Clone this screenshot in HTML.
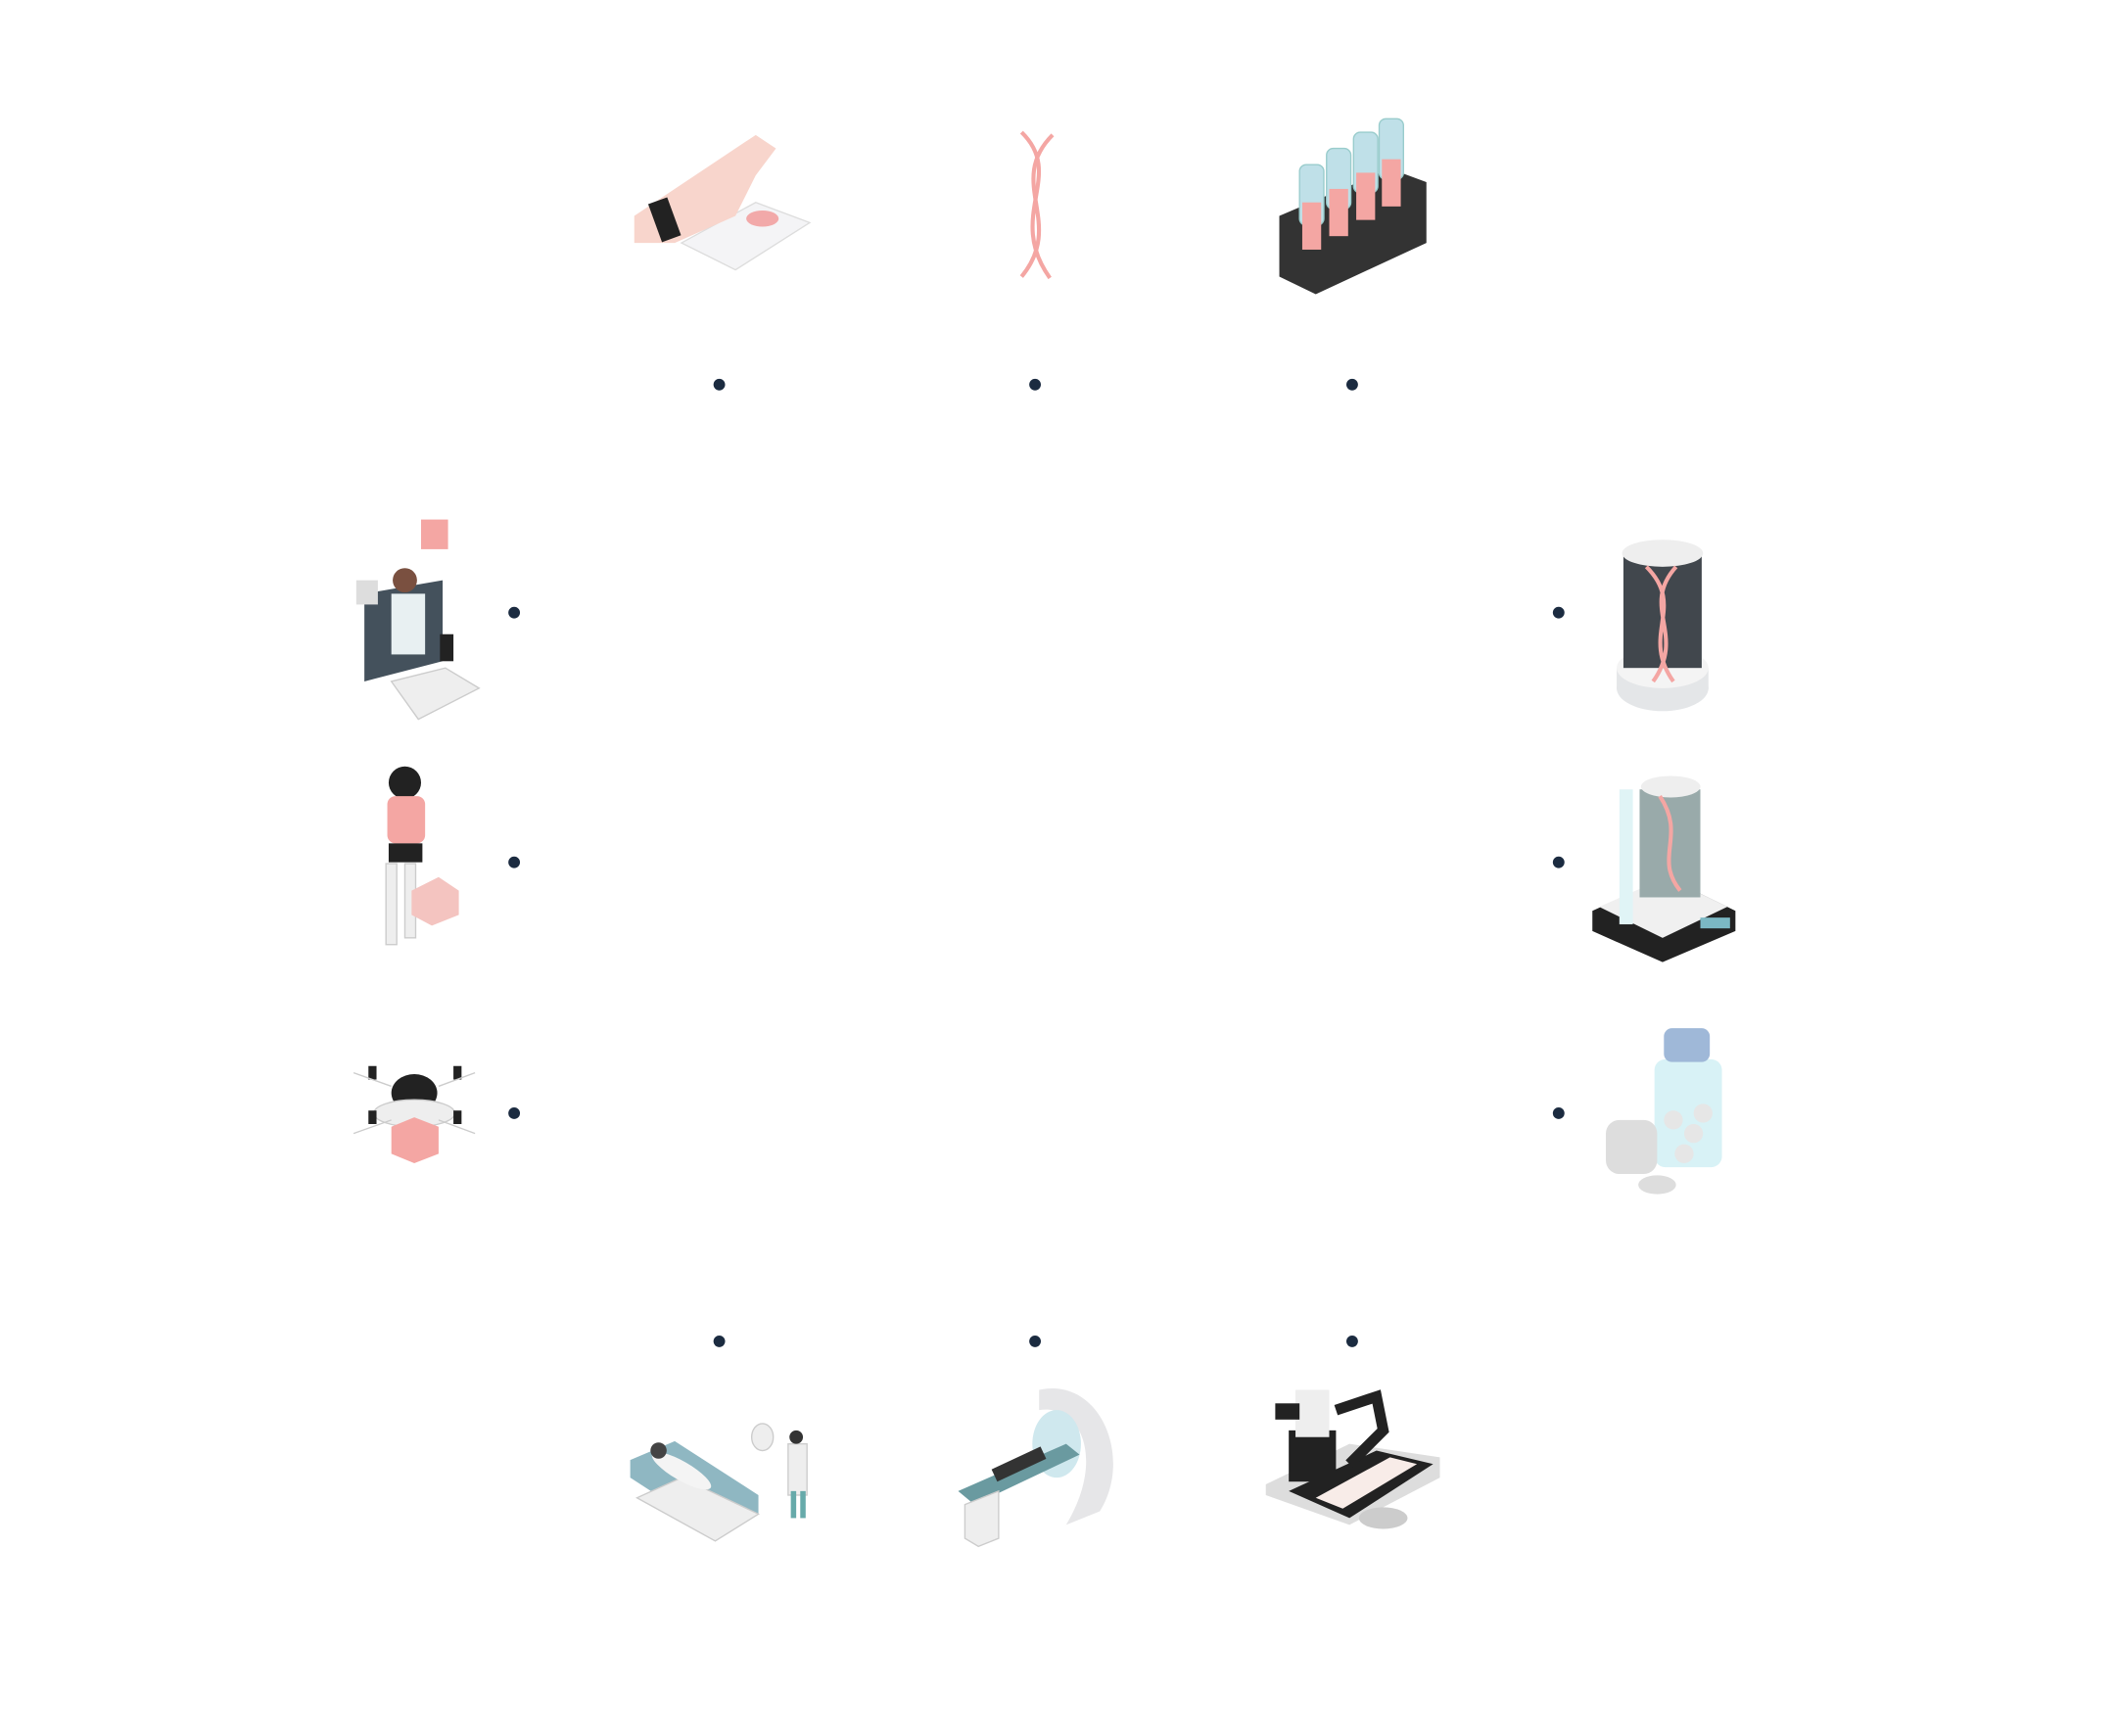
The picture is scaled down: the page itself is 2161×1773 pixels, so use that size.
<!DOCTYPE html>
<html><head><meta charset="utf-8"><style>
html,body{margin:0;padding:0;background:#fff;}
svg{display:block;}
</style></head><body>
<svg width="2161" height="1773" viewBox="0 0 1568 1286.5" xmlns="http://www.w3.org/2000/svg">
<rect width="1568" height="1286.5" fill="#fff"/>
<g fill="#1b2b40">
<circle cx="533" cy="285" r="4.3"/><circle cx="767" cy="285" r="4.3"/><circle cx="1002" cy="285" r="4.3"/>
<circle cx="381" cy="454" r="4.3"/><circle cx="1155" cy="454" r="4.3"/>
<circle cx="381" cy="639" r="4.3"/><circle cx="1155" cy="639" r="4.3"/>
<circle cx="381" cy="825" r="4.3"/><circle cx="1155" cy="825" r="4.3"/>
<circle cx="533" cy="994" r="4.3"/><circle cx="767" cy="994" r="4.3"/><circle cx="1002" cy="994" r="4.3"/>
</g>
<!-- 1 hand + tablet -->
<g>
<polygon points="505,180 560,150 600,165 545,200" fill="#f4f4f6" stroke="#ddd"/>
<path d="M470,160 L530,120 L560,100 L575,110 L560,130 L545,160 L500,180 L470,180 Z" fill="#f8d5cc"/>
<rect x="485" y="148" width="15" height="30" fill="#222" transform="rotate(-20 492 163)"/>
<ellipse cx="565" cy="162" rx="12" ry="6" fill="#f2a9a9"/>
</g>
<!-- 2 DNA -->
<g fill="none" stroke="#f4a6a3" stroke-width="3">
<path d="M757,98 C790,130 745,160 778,206"/>
<path d="M780,100 C745,135 790,165 757,205"/>
</g>
<!-- 3 rack -->
<g>
<polygon points="948,160 1030,125 1057,135 1057,180 975,218 948,205" fill="#333"/>
<g fill="#bfe0e8" stroke="#9cc">
<rect x="963" y="122" width="18" height="45" rx="5"/><rect x="983" y="110" width="18" height="45" rx="5"/>
<rect x="1003" y="98" width="18" height="45" rx="5"/><rect x="1022" y="88" width="18" height="45" rx="5"/>
</g>
<g fill="#f4a6a3"><rect x="965" y="150" width="14" height="35"/><rect x="985" y="140" width="14" height="35"/><rect x="1005" y="128" width="14" height="35"/><rect x="1024" y="118" width="14" height="35"/></g>
</g>
<!-- 4 doctor computer -->
<g>
<polygon points="270,440 328,430 328,490 270,505" fill="#44515c"/>
<polygon points="290,505 330,495 355,510 310,533" fill="#eee" stroke="#ccc"/>
<rect x="290" y="440" width="25" height="45" fill="#e8f0f2"/>
<circle cx="300" cy="430" r="9" fill="#7a5040"/>
<rect x="312" y="385" width="20" height="22" fill="#f4a6a3"/>
<rect x="264" y="430" width="16" height="18" fill="#ddd"/>
<rect x="326" y="470" width="10" height="20" fill="#222"/>
</g>
<!-- 5 robot -->
<g>
<circle cx="300" cy="580" r="12" fill="#222"/>
<rect x="287" y="590" width="28" height="35" rx="6" fill="#f4a6a3"/>
<rect x="288" y="625" width="25" height="14" fill="#222"/>
<rect x="286" y="640" width="8" height="60" fill="#eee" stroke="#ccc"/>
<rect x="300" y="640" width="8" height="55" fill="#eee" stroke="#ccc"/>
<polygon points="305,660 325,650 340,660 340,678 320,686 305,678" fill="#f4c4c0"/>
</g>
<!-- 6 drone -->
<g>
<ellipse cx="307" cy="810" rx="17" ry="14" fill="#222"/>
<ellipse cx="307" cy="825" rx="30" ry="10" fill="#eee" stroke="#ccc"/>
<polygon points="290,835 307,828 325,835 325,855 307,862 290,855" fill="#f4a6a3"/>
<g fill="#222"><rect x="273" y="790" width="6" height="10"/><rect x="336" y="790" width="6" height="10"/><rect x="273" y="823" width="6" height="10"/><rect x="336" y="823" width="6" height="10"/></g>
<g stroke="#ccc"><line x1="262" y1="795" x2="290" y2="805"/><line x1="352" y1="795" x2="325" y2="805"/><line x1="262" y1="840" x2="290" y2="830"/><line x1="352" y1="840" x2="325" y2="830"/></g>
</g>
<!-- 7 DNA cylinder -->
<g>
<ellipse cx="1232" cy="510" rx="34" ry="17" fill="#e4e6e8"/>
<rect x="1198" y="495" width="68" height="16" fill="#e4e6e8"/>
<ellipse cx="1232" cy="495" rx="34" ry="15" fill="#f4f4f4"/>
<rect x="1203" y="410" width="58" height="85" fill="#41474d"/>
<ellipse cx="1232" cy="410" rx="30" ry="10" fill="#eee"/>
<path d="M1220,420 C1250,450 1215,470 1240,505 M1242,420 C1215,450 1250,470 1225,505" stroke="#f4a6a3" stroke-width="3" fill="none"/>
</g>
<!-- 8 DNA device -->
<g>
<polygon points="1180,675 1235,650 1286,675 1286,690 1232,713 1180,690" fill="#222"/>
<polygon points="1185,672 1235,650 1280,672 1232,695" fill="#f0f0f0"/>
<rect x="1215" y="585" width="45" height="80" fill="#9aa"/>
<ellipse cx="1238" cy="583" rx="22" ry="8" fill="#eee"/>
<rect x="1200" y="585" width="10" height="100" fill="#e0f4f6"/>
<path d="M1230,590 C1250,620 1225,635 1245,660" stroke="#f4a6a3" stroke-width="3" fill="none"/>
<rect x="1260" y="680" width="22" height="8" fill="#7bb8c4"/>
</g>
<!-- 9 pill bottle -->
<g>
<rect x="1226" y="785" width="50" height="80" rx="8" fill="#d8f2f6"/>
<rect x="1233" y="762" width="34" height="25" rx="6" fill="#9fb8d8"/>
<g fill="#e6e6e6"><circle cx="1240" cy="830" r="7"/><circle cx="1255" cy="840" r="7"/><circle cx="1248" cy="855" r="7"/><circle cx="1262" cy="825" r="7"/></g>
<rect x="1190" y="830" width="38" height="40" rx="10" fill="#ddd"/>
<ellipse cx="1228" cy="878" rx="14" ry="7" fill="#ddd"/>
</g>
<!-- 10 bed -->
<g>
<polygon points="467,1082 500,1068 562,1108 562,1122 530,1136 467,1095" fill="#8fb7c2"/>
<polygon points="472,1110 530,1142 562,1122 505,1095" fill="#eee" stroke="#ccc"/>
<ellipse cx="505" cy="1090" rx="25" ry="7" fill="#f4f4f4" transform="rotate(30 505 1090)"/>
<circle cx="488" cy="1075" r="6" fill="#444"/>
<rect x="584" y="1070" width="14" height="38" fill="#eee" stroke="#ccc"/>
<rect x="586" y="1105" width="4" height="20" fill="#6aa"/><rect x="593" y="1105" width="4" height="20" fill="#6aa"/>
<circle cx="590" cy="1065" r="5" fill="#333"/>
<ellipse cx="565" cy="1065" rx="8" ry="10" fill="#eee" stroke="#ccc"/>
</g>
<!-- 11 MRI -->
<g>
<path d="M770,1030 C815,1020 840,1080 815,1120 L790,1130 C820,1080 800,1040 770,1045 Z" fill="#e6e6e8"/>
<ellipse cx="783" cy="1070" rx="18" ry="25" fill="#cfe8ee"/>
<polygon points="710,1105 790,1070 800,1078 722,1115" fill="#6a9aa0"/>
<rect x="735" y="1080" width="40" height="10" fill="#333" transform="rotate(-25 755 1085)"/>
<polygon points="715,1115 740,1105 740,1140 725,1146 715,1140" fill="#eee" stroke="#ccc"/>
</g>
<!-- 12 surgery -->
<g>
<polygon points="938,1100 1000,1070 1067,1080 1067,1095 1000,1130 938,1108" fill="#ddd"/>
<polygon points="955,1105 1020,1075 1062,1085 1000,1125" fill="#222"/>
<polygon points="975,1110 1030,1080 1050,1085 995,1118" fill="#f8ece8"/>
<rect x="955" y="1060" width="35" height="38" fill="#222"/>
<rect x="960" y="1030" width="25" height="35" fill="#eee"/>
<rect x="945" y="1040" width="18" height="12" fill="#222"/>
<path d="M990,1045 L1020,1035 L1025,1060 L1000,1085" stroke="#222" stroke-width="8" fill="none"/>
<ellipse cx="1025" cy="1125" rx="18" ry="8" fill="#ccc"/>
</g>
</svg>
</body></html>
